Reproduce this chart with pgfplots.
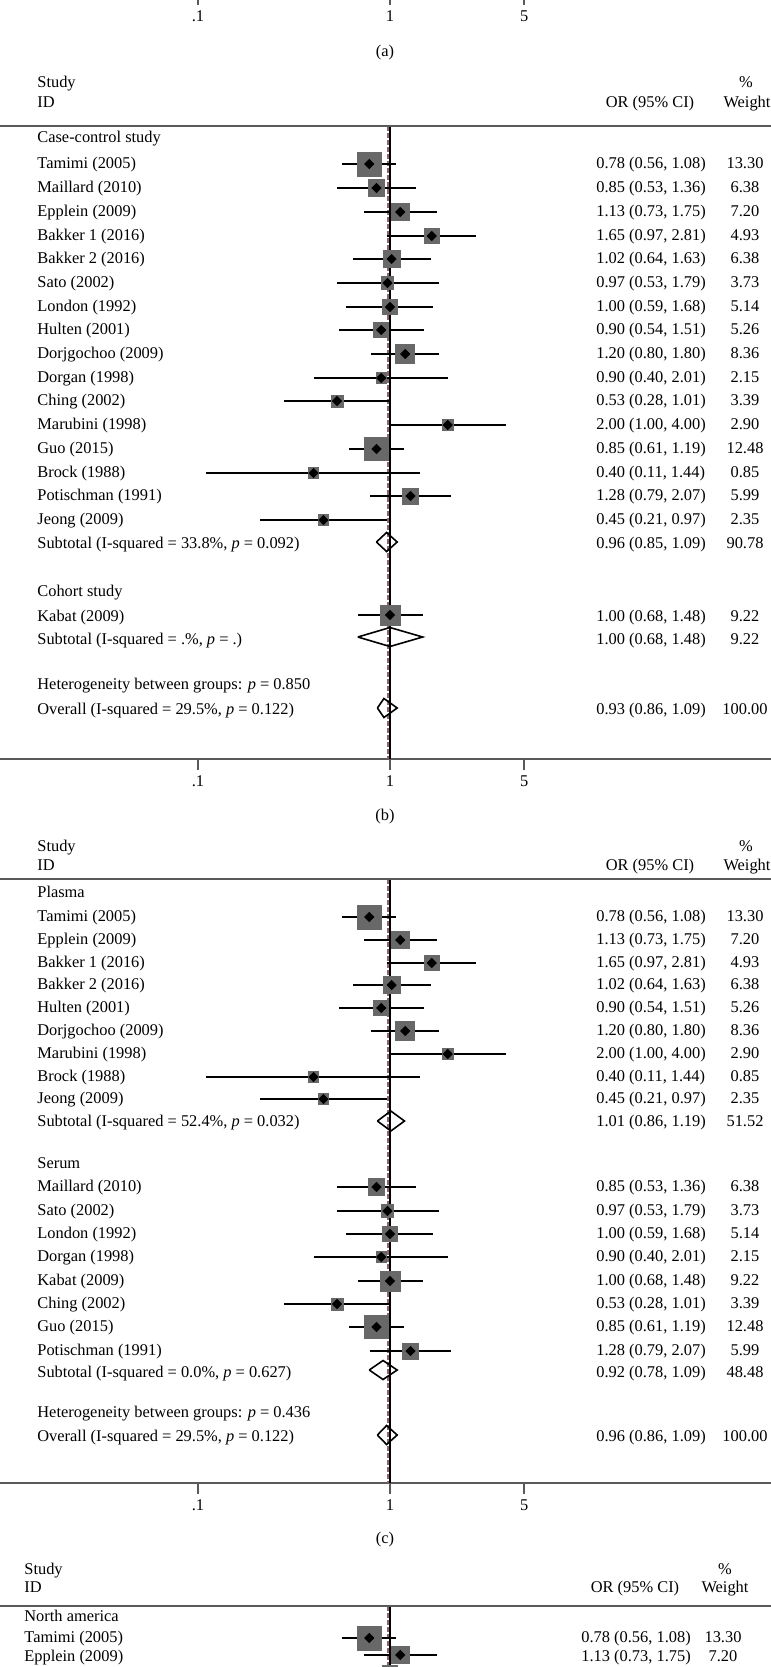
\documentclass[border=0pt]{standalone}
\usepackage{fontspec}
\setmainfont{Liberation Serif}
\usepackage{pgfplots}
\pgfplotsset{compat=1.18}
\usepackage{pgfplotstable}

\definecolor{boxgray}{RGB}{104,104,104}
\definecolor{axgray}{RGB}{90,90,90}
\definecolor{ovline}{RGB}{140,100,105}

% y = row position in pixels from the top of the figure (1 px = 0.5pt)
\pgfplotstableread{
y   es   lo   hi   w
164 0.78 0.56 1.08 13.30
188 0.85 0.53 1.36 6.38
212 1.13 0.73 1.75 7.20
236 1.65 0.97 2.81 4.93
259 1.02 0.64 1.63 6.38
283 0.97 0.53 1.79 3.73
307 1.00 0.59 1.68 5.14
330 0.90 0.54 1.51 5.26
354 1.20 0.80 1.80 8.36
378 0.90 0.40 2.01 2.15
401 0.53 0.28 1.01 3.39
425 2.00 1.00 4.00 2.90
449 0.85 0.61 1.19 12.48
473 0.40 0.11 1.44 0.85
496 1.28 0.79 2.07 5.99
520 0.45 0.21 0.97 2.35
615 1.00 0.68 1.48 9.22
}\designtab

\pgfplotstableread{
y    es   lo   hi   w
917  0.78 0.56 1.08 13.30
940  1.13 0.73 1.75 7.20
963  1.65 0.97 2.81 4.93
985  1.02 0.64 1.63 6.38
1008 0.90 0.54 1.51 5.26
1031 1.20 0.80 1.80 8.36
1054 2.00 1.00 4.00 2.90
1077 0.40 0.11 1.44 0.85
1099 0.45 0.21 0.97 2.35
1187 0.85 0.53 1.36 6.38
1211 0.97 0.53 1.79 3.73
1234 1.00 0.59 1.68 5.14
1257 0.90 0.40 2.01 2.15
1281 1.00 0.68 1.48 9.22
1304 0.53 0.28 1.01 3.39
1327 0.85 0.61 1.19 12.48
1351 1.28 0.79 2.07 5.99
}\sampletab

\pgfplotstableread{
y    es   lo   hi   w
1638 0.78 0.56 1.08 13.30
1655 1.13 0.73 1.75 7.20
1673 1.00 0.59 1.68 5.14
}\regiontab

\pgfplotsset{
  fwhisk/.style={only marks, mark=none, black,
    error bars/.cd, x dir=both, x explicit, error mark=none,
    error bar style={black, line width=0.8pt}},
  fboxes/.style={scatter, only marks, mark=square*,
    scatter/use mapped color={draw=boxgray, fill=boxgray},
    visualization depends on={max(1.645*sqrt(\thisrow{w}),2.6) \as \boxhalf},
    scatter/@pre marker code/.append style={/tikz/mark size=\boxhalf pt}},
  fpts/.style={only marks, mark=square*, mark size=1.6pt,
    mark options={rotate=45, draw=black, fill=black}},
  fpooled/.style={black, line width=0.8pt, mark=none},
  fnull/.style={black, line width=0.75pt, mark=none},
  fovl/.style={ovline, line width=0.9pt, dash pattern=on 2.5pt off 1pt, mark=none},
}

\newcommand\forestrows[1]{%
  \addplot[fwhisk] table[x=es, y expr=-\thisrow{y},
    x error plus expr=\thisrow{hi}-\thisrow{es},
    x error minus expr=\thisrow{es}-\thisrow{lo}] {#1};
  \addplot[fboxes] table[x=es, y expr=-\thisrow{y}] {#1};
  \addplot[fpts] table[x=es, y expr=-\thisrow{y}] {#1};
}

% text rows: y, label, OR (95% CI), weight
\newcommand\Rb[4]{%
  \node[anchor=base west] at (37,#1+4) {#2};
  \node[anchor=base west] at (596,#1+4) {#3};
  \node[anchor=base] at (745,#1+4) {#4};}
\newcommand\Rd[4]{%
  \node[anchor=base west] at (24,#1+4) {#2};
  \node[anchor=base west] at (581,#1+4) {#3};
  \node[anchor=base] at (723,#1+4) {#4};}

\begin{document}
\fontsize{8.2}{9.8}\selectfont
\begin{tikzpicture}
\pgfplotsset{every axis/.append style={
    scale only axis, width=385.5pt, clip=false,
    xmin=0.009306, xmax=96.47,
    axis x line*=bottom, axis y line=none,
    xtick={0.1,1,5}, xticklabels={.1,1,5}, minor xtick={},
    tick align=outside, major tick length=5.5pt,
    x axis line style={-, axgray, line width=1pt},
    every tick/.append style={axgray, line width=0.75pt},
}}

% (a): only the tick row of its axis is inside the figure
\begin{semilogxaxis}[anchor=south west, at={(0pt,3pt)}, height=100pt, ymin=0, ymax=1]
  \addplot[draw=none] coordinates {(1,0.5)};
\end{semilogxaxis}

% (b) by study design
\begin{semilogxaxis}[anchor=north west, at={(0pt,-63pt)}, height=316.5pt, ymin=-759, ymax=-126]
  \addplot[fovl] coordinates {(0.977,-126) (0.977,-759)};
  \addplot[fnull] coordinates {(1,-126) (1,-759)};
  \forestrows{\designtab}
  \addplot[fpooled] coordinates {(0.85,-542) (0.96,-532.5) (1.09,-542) (0.96,-551.5) (0.85,-542)};
  \addplot[fpooled] coordinates {(0.68,-637) (1.00,-627.5) (1.48,-637) (1.00,-646.5) (0.68,-637)};
  \addplot[fpooled] coordinates {(0.86,-708) (0.93,-698.5) (1.09,-708) (0.93,-717.5) (0.86,-708)};
\end{semilogxaxis}

% (c) by sample type
\begin{semilogxaxis}[anchor=north west, at={(0pt,-439.5pt)}, height=302pt, ymin=-1483, ymax=-879]
  \addplot[fovl] coordinates {(0.977,-879) (0.977,-1483)};
  \addplot[fnull] coordinates {(1,-879) (1,-1483)};
  \forestrows{\sampletab}
  \addplot[fpooled] coordinates {(0.86,-1121) (1.01,-1111) (1.19,-1121) (1.01,-1131) (0.86,-1121)};
  \addplot[fpooled] coordinates {(0.78,-1370) (0.92,-1360.5) (1.09,-1370) (0.92,-1379.5) (0.78,-1370)};
  \addplot[fpooled] coordinates {(0.86,-1435) (0.96,-1425.5) (1.09,-1435) (0.96,-1444.5) (0.86,-1435)};
\end{semilogxaxis}

% (d) by region, cut off by the figure edge
\begin{semilogxaxis}[anchor=north west, at={(0pt,-803pt)}, height=200pt, ymin=-2006, ymax=-1606,
    xtick=\empty, axis x line=none]
  \addplot[fovl] coordinates {(0.977,-1606) (0.977,-2006)};
  \addplot[fnull] coordinates {(1,-1606) (1,-2006)};
  \forestrows{\regiontab}
\end{semilogxaxis}

\begin{scope}[x=0.5pt, y=-0.5pt, every node/.style={inner sep=0pt}]
  \node[anchor=base] at (385,56) {(a)};
  \node[anchor=base] at (385,820) {(b)};
  \node[anchor=base] at (385,1543) {(c)};

  % header (b)
  \node[anchor=base west] at (37,87) {Study};
  \node[anchor=base west] at (37,107) {ID};
  \node[anchor=base] at (746,87) {\%};
  \node[anchor=base] at (650,107) {OR (95\% CI)};
  \node[anchor=base] at (747,107) {Weight};
  \draw[axgray, line width=1pt] (0,126) -- (771,126);

  \Rb{138}{Case-control study}{}{}
  \Rb{164}{Tamimi (2005)}{0.78 (0.56, 1.08)}{13.30}
  \Rb{188}{Maillard (2010)}{0.85 (0.53, 1.36)}{6.38}
  \Rb{212}{Epplein (2009)}{1.13 (0.73, 1.75)}{7.20}
  \Rb{236}{Bakker 1 (2016)}{1.65 (0.97, 2.81)}{4.93}
  \Rb{259}{Bakker 2 (2016)}{1.02 (0.64, 1.63)}{6.38}
  \Rb{283}{Sato (2002)}{0.97 (0.53, 1.79)}{3.73}
  \Rb{307}{London (1992)}{1.00 (0.59, 1.68)}{5.14}
  \Rb{330}{Hulten (2001)}{0.90 (0.54, 1.51)}{5.26}
  \Rb{354}{Dorjgochoo (2009)}{1.20 (0.80, 1.80)}{8.36}
  \Rb{378}{Dorgan (1998)}{0.90 (0.40, 2.01)}{2.15}
  \Rb{401}{Ching (2002)}{0.53 (0.28, 1.01)}{3.39}
  \Rb{425}{Marubini (1998)}{2.00 (1.00, 4.00)}{2.90}
  \Rb{449}{Guo (2015)}{0.85 (0.61, 1.19)}{12.48}
  \Rb{473}{Brock (1988)}{0.40 (0.11, 1.44)}{0.85}
  \Rb{496}{Potischman (1991)}{1.28 (0.79, 2.07)}{5.99}
  \Rb{520}{Jeong (2009)}{0.45 (0.21, 0.97)}{2.35}
  \Rb{544}{Subtotal (I-squared = 33.8\%, \textit{p} = 0.092)}{0.96 (0.85, 1.09)}{90.78}
  \Rb{592}{Cohort study}{}{}
  \Rb{617}{Kabat (2009)}{1.00 (0.68, 1.48)}{9.22}
  \Rb{640}{Subtotal (I-squared = .\%, \textit{p} = .)}{1.00 (0.68, 1.48)}{9.22}
  \Rb{685}{Heterogeneity between groups: \textit{p} = 0.850}{}{}
  \Rb{710}{Overall (I-squared = 29.5\%, \textit{p} = 0.122)}{0.93 (0.86, 1.09)}{100.00}

  % header (c)
  \node[anchor=base west] at (37,851) {Study};
  \node[anchor=base west] at (37,870) {ID};
  \node[anchor=base] at (746,851) {\%};
  \node[anchor=base] at (650,870) {OR (95\% CI)};
  \node[anchor=base] at (747,870) {Weight};
  \draw[axgray, line width=1pt] (0,879) -- (771,879);

  \Rb{893}{Plasma}{}{}
  \Rb{917}{Tamimi (2005)}{0.78 (0.56, 1.08)}{13.30}
  \Rb{940}{Epplein (2009)}{1.13 (0.73, 1.75)}{7.20}
  \Rb{963}{Bakker 1 (2016)}{1.65 (0.97, 2.81)}{4.93}
  \Rb{985}{Bakker 2 (2016)}{1.02 (0.64, 1.63)}{6.38}
  \Rb{1008}{Hulten (2001)}{0.90 (0.54, 1.51)}{5.26}
  \Rb{1031}{Dorjgochoo (2009)}{1.20 (0.80, 1.80)}{8.36}
  \Rb{1054}{Marubini (1998)}{2.00 (1.00, 4.00)}{2.90}
  \Rb{1077}{Brock (1988)}{0.40 (0.11, 1.44)}{0.85}
  \Rb{1099}{Jeong (2009)}{0.45 (0.21, 0.97)}{2.35}
  \Rb{1122}{Subtotal (I-squared = 52.4\%, \textit{p} = 0.032)}{1.01 (0.86, 1.19)}{51.52}
  \Rb{1164}{Serum}{}{}
  \Rb{1187}{Maillard (2010)}{0.85 (0.53, 1.36)}{6.38}
  \Rb{1211}{Sato (2002)}{0.97 (0.53, 1.79)}{3.73}
  \Rb{1234}{London (1992)}{1.00 (0.59, 1.68)}{5.14}
  \Rb{1257}{Dorgan (1998)}{0.90 (0.40, 2.01)}{2.15}
  \Rb{1281}{Kabat (2009)}{1.00 (0.68, 1.48)}{9.22}
  \Rb{1304}{Ching (2002)}{0.53 (0.28, 1.01)}{3.39}
  \Rb{1327}{Guo (2015)}{0.85 (0.61, 1.19)}{12.48}
  \Rb{1351}{Potischman (1991)}{1.28 (0.79, 2.07)}{5.99}
  \Rb{1373}{Subtotal (I-squared = 0.0\%, \textit{p} = 0.627)}{0.92 (0.78, 1.09)}{48.48}
  \Rb{1413}{Heterogeneity between groups: \textit{p} = 0.436}{}{}
  \Rb{1437}{Overall (I-squared = 29.5\%, \textit{p} = 0.122)}{0.96 (0.86, 1.09)}{100.00}

  % header (d)
  \node[anchor=base west] at (24,1574) {Study};
  \node[anchor=base west] at (24,1592) {ID};
  \node[anchor=base] at (725,1574) {\%};
  \node[anchor=base] at (635,1592) {OR (95\% CI)};
  \node[anchor=base] at (725,1592) {Weight};
  \draw[axgray, line width=1pt] (0,1606) -- (771,1606);

  \Rd{1617}{North america}{}{}
  \Rd{1638}{Tamimi (2005)}{0.78 (0.56, 1.08)}{13.30}
  \Rd{1657}{Epplein (2009)}{1.13 (0.73, 1.75)}{7.20}
\end{scope}

\pgfresetboundingbox
\path[use as bounding box] (0pt,0pt) rectangle (385.5pt,-833.5pt);
\end{tikzpicture}
\end{document}
